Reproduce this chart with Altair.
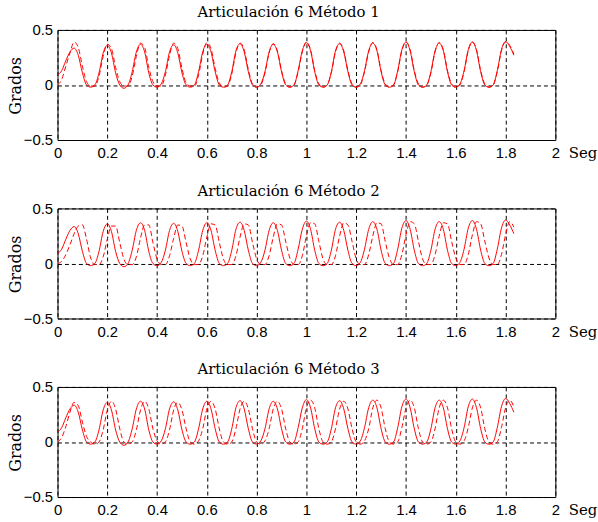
import altair as alt
import pandas as pd

# Sampling instants (s)
tiempo = [i / 60 for i in range(111)]

titulos = ["Articulación 6  Método 1", "Articulación 6  Método 2", "Articulación 6  Método 3"]

# Reference trajectory (solid line), same in the three panels
referencia = [
    0.09, 0.13, 0.22, 0.30, 0.335, 0.27, 0.11, 0.00,
    -0.02, 0.00, 0.11, 0.29, 0.36, 0.29, 0.11, 0.00,
    -0.03, 0.00, 0.12, 0.30, 0.37, 0.30, 0.11, 0.00,
    -0.02, 0.01, 0.12, 0.30, 0.365, 0.29, 0.11, 0.00,
    -0.02, 0.00, 0.12, 0.30, 0.37, 0.30, 0.12, 0.00,
    -0.02, 0.00, 0.12, 0.31, 0.375, 0.30, 0.12, 0.00,
    -0.02, 0.01, 0.12, 0.30, 0.37, 0.30, 0.12, 0.00,
    -0.02, 0.00, 0.13, 0.31, 0.385, 0.31, 0.12, 0.00,
    -0.02, 0.00, 0.12, 0.31, 0.375, 0.30, 0.12, 0.00,
    -0.02, 0.01, 0.13, 0.31, 0.38, 0.31, 0.12, 0.00,
    -0.02, 0.00, 0.13, 0.32, 0.39, 0.31, 0.12, 0.00,
    -0.02, 0.00, 0.12, 0.31, 0.38, 0.31, 0.12, 0.00,
    -0.02, 0.01, 0.13, 0.32, 0.39, 0.31, 0.12, 0.00,
    -0.02, 0.00, 0.13, 0.32, 0.395, 0.35, 0.27,
]

# Method outputs (dashed lines)
metodo1 = [
    0.00, 0.05, 0.17, 0.29, 0.39, 0.34, 0.17, 0.03,
    -0.01, -0.01, 0.08, 0.26, 0.37, 0.33, 0.16, 0.03,
    -0.01, -0.01, 0.08, 0.26, 0.38, 0.34, 0.16, 0.03,
    -0.01, -0.01, 0.09, 0.27, 0.38, 0.33, 0.15, 0.02,
    -0.01, -0.01, 0.09, 0.28, 0.385, 0.33, 0.15, 0.02,
    -0.02, -0.01, 0.10, 0.29, 0.38, 0.32, 0.14, 0.01,
    -0.02, 0.00, 0.11, 0.29, 0.375, 0.31, 0.13, 0.01,
    -0.02, 0.00, 0.12, 0.30, 0.39, 0.32, 0.13, 0.01,
    -0.02, 0.00, 0.11, 0.30, 0.38, 0.31, 0.13, 0.01,
    -0.02, 0.00, 0.12, 0.30, 0.385, 0.32, 0.13, 0.01,
    -0.02, 0.00, 0.12, 0.31, 0.39, 0.32, 0.13, 0.01,
    -0.02, 0.00, 0.11, 0.30, 0.385, 0.32, 0.13, 0.01,
    -0.02, 0.00, 0.12, 0.31, 0.39, 0.32, 0.13, 0.01,
    -0.02, 0.00, 0.12, 0.31, 0.39, 0.36, 0.28,
]

metodo2 = [
    0.00, 0.02, 0.08, 0.17, 0.27, 0.34, 0.35, 0.22,
    0.05, -0.01, -0.01, 0.06, 0.22, 0.34, 0.34, 0.19,
    0.04, -0.01, -0.01, 0.06, 0.23, 0.35, 0.35, 0.19,
    0.04, -0.01, -0.01, 0.07, 0.23, 0.35, 0.34, 0.19,
    0.04, -0.01, -0.01, 0.07, 0.24, 0.36, 0.35, 0.19,
    0.04, -0.01, -0.01, 0.07, 0.24, 0.36, 0.35, 0.19,
    0.04, -0.01, -0.01, 0.07, 0.24, 0.36, 0.35, 0.20,
    0.05, -0.01, -0.01, 0.07, 0.25, 0.37, 0.36, 0.20,
    0.04, -0.01, -0.01, 0.07, 0.25, 0.37, 0.35, 0.20,
    0.04, -0.01, -0.01, 0.08, 0.25, 0.37, 0.36, 0.20,
    0.05, -0.01, -0.01, 0.08, 0.26, 0.38, 0.36, 0.20,
    0.04, -0.01, -0.01, 0.08, 0.25, 0.37, 0.36, 0.20,
    0.05, -0.01, -0.01, 0.08, 0.26, 0.38, 0.36, 0.20,
    0.05, -0.01, -0.01, 0.08, 0.26, 0.38, 0.33,
]

metodo3 = [
    0.00, 0.04, 0.14, 0.27, 0.36, 0.33, 0.18, 0.05,
    0.00, -0.02, 0.00, 0.11, 0.29, 0.37, 0.30, 0.12,
    0.00, -0.02, 0.00, 0.11, 0.29, 0.37, 0.30, 0.12,
    0.01, -0.02, 0.00, 0.11, 0.29, 0.36, 0.29, 0.12,
    0.00, -0.02, 0.01, 0.12, 0.30, 0.37, 0.30, 0.12,
    0.00, -0.02, 0.00, 0.12, 0.30, 0.37, 0.30, 0.12,
    0.00, -0.02, 0.01, 0.12, 0.30, 0.37, 0.30, 0.12,
    0.00, -0.02, 0.00, 0.12, 0.31, 0.38, 0.31, 0.12,
    0.00, -0.02, 0.00, 0.12, 0.30, 0.37, 0.30, 0.12,
    0.00, -0.02, 0.01, 0.12, 0.31, 0.38, 0.31, 0.12,
    0.00, -0.02, 0.00, 0.13, 0.31, 0.38, 0.31, 0.12,
    0.00, -0.02, 0.00, 0.12, 0.31, 0.38, 0.31, 0.12,
    0.00, -0.02, 0.01, 0.13, 0.31, 0.38, 0.31, 0.12,
    0.00, -0.02, 0.00, 0.13, 0.31, 0.38, 0.32,
]

x_ticks = [0, 0.2, 0.4, 0.6, 0.8, 1.0, 1.2, 1.4, 1.6, 1.8, 2.0]
y_ticks = [-0.5, 0, 0.5]

RED = "#ff0000"
GRID = dict(grid=True, gridColor="black", gridDash=[4, 3], gridWidth=1, gridOpacity=1)


def panel(titulo, metodo):
    df = pd.DataFrame({"t": tiempo, "ref": referencia, "met": metodo})
    base = alt.Chart(df)
    xenc = alt.X(
        "t:Q",
        scale=alt.Scale(domain=[0, 2], nice=False, zero=False),
        axis=alt.Axis(
            values=x_ticks, format=".1~f", title="Seg", titleX=515, titleY=6,
            titleAlign="left", titleBaseline="top", titleAngle=0, titleFontSize=15,
            labelFlush=False, labelOverlap=False, labelPadding=6, **GRID,
        ),
    )
    yenc = alt.Y(
        "ref:Q",
        scale=alt.Scale(domain=[-0.5, 0.5], nice=False),
        axis=alt.Axis(
            values=y_ticks, format=".1~f", title="Grados", titleX=-42, titleY=56,
            titleAngle=270, titleAlign="center", titleBaseline="middle", titleFontSize=16,
            labelPadding=5, labelFlush=False, labelOverlap=False, **GRID,
        ),
    )
    solid = base.mark_line(color=RED, strokeWidth=1, interpolate="monotone").encode(x=xenc, y=yenc)
    dashed = base.mark_line(color=RED, strokeWidth=1, strokeDash=[5, 3], interpolate="monotone").encode(
        x="t:Q", y="met:Q"
    )
    return alt.layer(dashed, solid).properties(
        width=502, height=111,
        title=alt.TitleParams(titulo, dx=-18, anchor="middle", offset=3),
    )


chart = alt.vconcat(
    panel(titulos[0], metodo1),
    panel(titulos[1], metodo2),
    panel(titulos[2], metodo3),
    spacing=21,
).properties(
    padding={"left": 7, "top": 2, "right": 0, "bottom": 0},
    background="white",
).configure_view(
    stroke="black", strokeWidth=1
).configure_axis(
    labelFont="Liberation Sans", labelFontSize=15, labelColor="black",
    titleFont="DejaVu Serif", titleFontWeight="normal", titleColor="black",
    domain=False, ticks=False,
).configure_title(
    font="DejaVu Serif", fontSize=15, fontWeight="normal", color="black"
)

chart.save("out.html", embed_options={"renderer": "svg", "actions": False})
